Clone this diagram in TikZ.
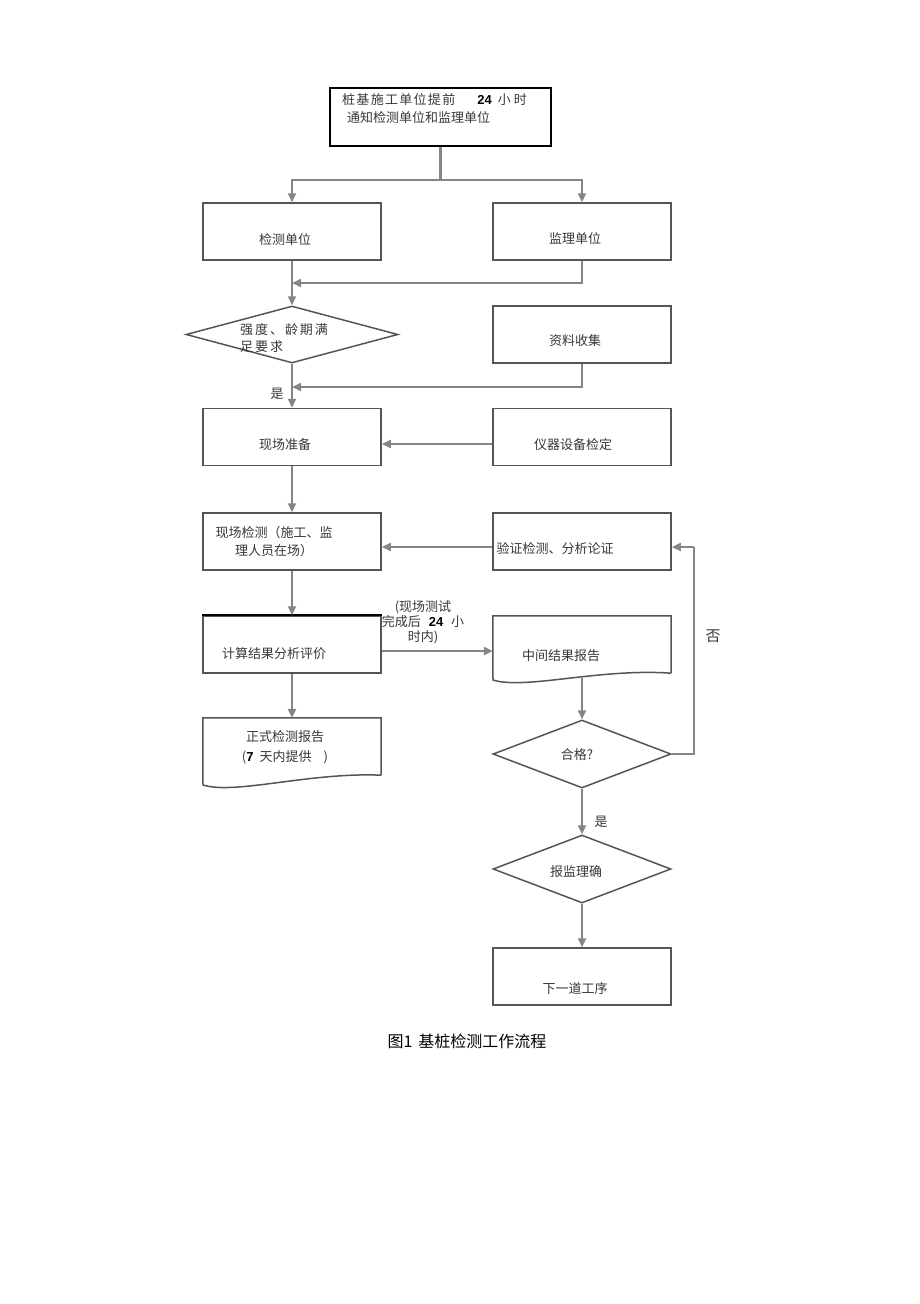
\documentclass[tikz,border=0pt]{standalone}
\usepackage{fontspec}
\newfontfamily\cjk{Noto Sans CJK SC}
\newfontfamily\cjkls[LetterSpace=15]{Noto Sans CJK SC}
\newfontfamily\cjkla[LetterSpace=10]{Noto Sans CJK SC}
\newfontfamily\lat{Liberation Sans}
\usetikzlibrary{arrows.meta,shapes.geometric}
\definecolor{conn}{HTML}{858585}
\definecolor{brd}{HTML}{555555}
\definecolor{txt}{HTML}{383838}
\begin{document}
\begin{tikzpicture}[x=1pt,y=-1pt,
 box/.style={draw=brd,line width=1.5pt,minimum width=178pt,minimum height=57pt,inner sep=0pt},
 docbox/.style={minimum width=178pt,minimum height=57pt,inner sep=0pt},
 docline/.style={draw=brd,line width=1.5pt},
 dia/.style={draw=brd,line width=1.5pt,diamond,inner sep=0pt,minimum width=178pt,minimum height=68pt},
 lbl/.style={font=\cjk\fontsize{13}{15}\selectfont,text=txt,inner sep=0pt},
 arr/.style={draw=conn,line width=2.2pt,-{Triangle[length=9pt,width=8pt]}},
 ln/.style={draw=conn,line width=2.2pt}]
\useasboundingbox[fill=white] (0,0) rectangle (920,1304);

% nodes
\node[box,draw=black,line width=2pt,minimum width=221pt,minimum height=58pt] (top) at (440.5,117) {};
\node[box] (jc) at (292,231.5) {};
\node[box] (jl) at (582,231.5) {};
\node[dia,minimum width=212pt,minimum height=57pt] (d1) at (292,334.5) {};
\node[box] (zl) at (582,334.5) {};
\node[box] (xc) at (292,437) {};
\node[box] (yq) at (582,437) {};
\node[box] (jcx) at (292,541.5) {};
\node[box] (yz) at (582,541.5) {};
\node[box] (js) at (292,644.5) {};
\draw[black,line width=2pt] (js.north west) -- (js.north east);
\node[docbox] (zj) at (582,644.5) {};
\node[docbox] (zs) at (292,746.5) {};
\node[dia] (hg) at (582,754) {};
\node[dia] (bj) at (582,869) {};
\node[box] (xy) at (582,976.5) {};

% document shapes
\draw[docline] (zj.south east) -- (zj.north east) -- (zj.north west) -- (493,680)
  .. controls (525,690) and (600,668) .. (zj.south east);
\draw[docline] (zs.south east) -- (zs.north east) -- (zs.north west) -- (203,785)
  .. controls (235,795) and (310,772) .. (zs.south east);

% texts
\node[lbl,anchor=west] (t0a) at (342,100) {\cjkla 桩基施工单位提前\hspace{22pt}{\lat\bfseries\color{black}24}\hspace{6pt}小\hspace{3pt}时};
\node[lbl,anchor=west] (t0b) at (347,118) {通知检测单位和监理单位};
\node[lbl] (tjc) at (285,240) {检测单位};
\node[lbl] (tjl) at (575,239) {监理单位};
\node[lbl,anchor=west,align=left,font=\cjkls\fontsize{13}{17}\selectfont] (td1) at (240,338.5) {强度、龄期满\\足要求};
\node[lbl] (tzl) at (575,341) {资料收集};
\node[lbl] (yes1) at (277,394) {是};
\node[lbl] (txc) at (285,445) {现场准备};
\node[lbl] (tyq) at (573,445) {仪器设备检定};
\node[lbl,align=center,font=\cjk\fontsize{13}{18}\selectfont] (tjcx) at (274,542) {现场检测（施工、监\\理人员在场）};
\node[lbl] (tyz) at (555,549) {验证检测、分析论证};
\node[lbl,align=center,font=\cjk\fontsize{13}{15}\selectfont] (tnote) at (423,622) {(现场测试\\完成后\hspace{8pt}{\lat\bfseries\color{black}24}\hspace{8pt}小\\时内)};
\node[lbl] (tjs) at (274,654) {计算结果分析评价};
\node[lbl] (tzj) at (561,656) {中间结果报告};
\node[lbl,align=center,font=\cjk\fontsize{13}{20}\selectfont] (tzs) at (285,747) {正式检测报告\\({\lat\bfseries\color{black}7}\hspace{6pt}天内提供\hspace{12pt})};
\node[lbl] (thg) at (577,755) {合格?};
\node[lbl] (yes2) at (601,822) {是};
\node[lbl] (tbj) at (576,872) {报监理确};
\node[lbl] (txy) at (575,989) {下一道工序};
\node[lbl,font=\cjk\fontsize{15}{17}\selectfont] (no) at (713,636) {否};
\node[lbl,text=black,font=\cjk\fontsize{16}{18}\selectfont] (cap) at (467,1041) {图1\hspace{6pt}基桩检测工作流程};

% coordinates
\coordinate (split) at (440.5,180);
\coordinate (m1) at (292,283);
\coordinate (m2) at (292,387);
\coordinate (zjb) at (582,678);
\coordinate (c2) at (694,547);

% connectors
\draw[ln] (top.south) -- (split);
\draw[arr] (split) -| (jc.north);
\draw[arr] (split) -| (jl.north);
\draw[arr] (jc.south) -- (d1.north);
\draw[arr] (jl.south) |- (m1);
\draw[arr] (zl.south) |- (m2);
\draw[arr] (d1.south) -- (xc.north);
\draw[arr] ([yshift=-7pt]yq.west) -- ([yshift=-7pt]xc.east);
\draw[arr] (xc.south) -- (jcx.north);
\draw[arr] ([yshift=-5.5pt]yz.west) -- ([yshift=-5.5pt]jcx.east);
\draw[arr] (jcx.south) -- (js.north);
\draw[arr] ([yshift=-6.5pt]js.east) -- ([yshift=-6.5pt]zj.west);
\draw[arr] (js.south) -- (zs.north);
\draw[arr] (zjb) -- (hg.north);
\draw[ln] (hg.east) -| (c2);
\draw[arr] (c2) -- ([yshift=-5.5pt]yz.east);
\draw[arr] (hg.south) -- (bj.north);
\draw[arr] (bj.south) -- (xy.north);
\end{tikzpicture}
\end{document}
